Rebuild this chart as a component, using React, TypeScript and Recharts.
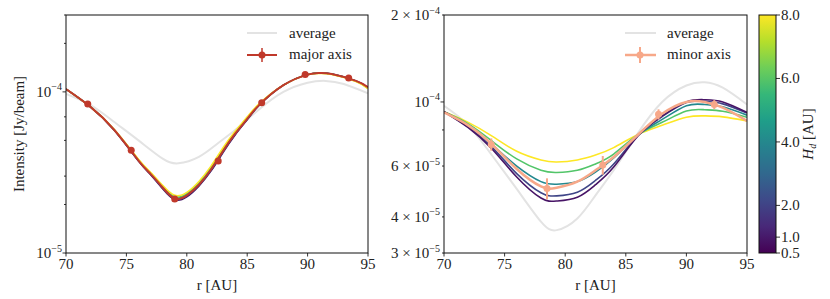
import React from 'react'
import { ComposedChart, Line, Scatter, ErrorBar, XAxis, YAxis } from 'recharts'

// left panel (major axis), radius grid in AU
const XL = [70, 72, 74, 76, 77, 78, 79, 80, 81, 82, 83, 84, 85, 86, 88, 90, 91, 92, 94, 95]
const majorFit = [1.04e-4, 8.1e-5, 5.8e-5, 3.75e-5, 3.1e-5, 2.55e-5, 2.18e-5, 2.28e-5, 2.65e-5, 3.3e-5, 4.3e-5, 5.5e-5, 6.8e-5, 8.3e-5, 1.1e-4, 1.28e-4, 1.31e-4, 1.29e-4, 1.17e-4, 1.07e-4]
const majHd1 = [1.04e-4, 8.1e-5, 5.78e-5, 3.72e-5, 3.06e-5, 2.5e-5, 2.14e-5, 2.23e-5, 2.6e-5, 3.22e-5, 4.2e-5, 5.4e-5, 6.72e-5, 8.25e-5, 1.1e-4, 1.28e-4, 1.31e-4, 1.29e-4, 1.17e-4, 1.06e-4]
const majHd2 = [1.04e-4, 8.1e-5, 5.79e-5, 3.73e-5, 3.08e-5, 2.52e-5, 2.16e-5, 2.26e-5, 2.63e-5, 3.26e-5, 4.25e-5, 5.45e-5, 6.76e-5, 8.28e-5, 1.1e-4, 1.28e-4, 1.31e-4, 1.29e-4, 1.17e-4, 1.06e-4]
const majHd4 = [1.04e-4, 8.1e-5, 5.8e-5, 3.76e-5, 3.11e-5, 2.56e-5, 2.2e-5, 2.3e-5, 2.68e-5, 3.33e-5, 4.33e-5, 5.53e-5, 6.83e-5, 8.32e-5, 1.1e-4, 1.28e-4, 1.31e-4, 1.29e-4, 1.17e-4, 1.055e-4]
const majHd6 = [1.04e-4, 8.1e-5, 5.82e-5, 3.79e-5, 3.14e-5, 2.6e-5, 2.24e-5, 2.34e-5, 2.73e-5, 3.4e-5, 4.42e-5, 5.62e-5, 6.92e-5, 8.38e-5, 1.1e-4, 1.28e-4, 1.305e-4, 1.285e-4, 1.165e-4, 1.05e-4]
const majHd8 = [1.04e-4, 8.1e-5, 5.84e-5, 3.82e-5, 3.17e-5, 2.63e-5, 2.28e-5, 2.38e-5, 2.78e-5, 3.46e-5, 4.5e-5, 5.7e-5, 7.0e-5, 8.45e-5, 1.1e-4, 1.275e-4, 1.3e-4, 1.28e-4, 1.16e-4, 1.045e-4]
const majorR = [71.8, 75.4, 79.0, 82.6, 86.2, 89.8, 93.4]
const majorI = [8.4e-5, 4.34e-5, 2.16e-5, 3.73e-5, 8.55e-5, 1.28e-4, 1.22e-4]
const majorErr = [1.5e-6, 1e-6, 6e-7, 1e-6, 1.5e-6, 2e-6, 2e-6]

// right panel (minor axis)
const XR = [70, 72, 74, 76, 78, 79.3, 81, 82.5, 84, 86, 88, 90, 91.5, 93, 95]
const average = [9.7e-5, 8.3e-5, 6.5e-5, 5.0e-5, 3.85e-5, 3.6e-5, 3.95e-5, 4.75e-5, 5.8e-5, 7.8e-5, 1.0e-4, 1.14e-4, 1.17e-4, 1.12e-4, 9.8e-5]
const minHd8 = [9.25e-5, 8.5e-5, 7.6e-5, 6.75e-5, 6.3e-5, 6.2e-5, 6.3e-5, 6.55e-5, 6.95e-5, 7.72e-5, 8.3e-5, 8.85e-5, 8.95e-5, 8.88e-5, 8.6e-5]
const minHd6 = [9.25e-5, 8.4e-5, 7.3e-5, 6.35e-5, 5.8e-5, 5.7e-5, 5.8e-5, 6.1e-5, 6.6e-5, 7.7e-5, 8.5e-5, 9.3e-5, 9.4e-5, 9.28e-5, 8.85e-5]
const minHd4 = [9.25e-5, 8.3e-5, 7.1e-5, 6.0e-5, 5.3e-5, 5.19e-5, 5.3e-5, 5.72e-5, 6.4e-5, 7.68e-5, 8.7e-5, 9.7e-5, 9.8e-5, 9.62e-5, 9.0e-5]
const minHd2 = [9.25e-5, 8.2e-5, 6.95e-5, 5.65e-5, 4.85e-5, 4.73e-5, 4.87e-5, 5.35e-5, 6.1e-5, 7.65e-5, 8.9e-5, 9.95e-5, 1.005e-4, 9.85e-5, 9.15e-5]
const minHd1 = [9.25e-5, 8.15e-5, 6.85e-5, 5.5e-5, 4.65e-5, 4.54e-5, 4.68e-5, 5.17e-5, 5.95e-5, 7.62e-5, 8.95e-5, 1.0e-4, 1.018e-4, 1.0e-4, 9.2e-5]
const minorFit = [9.2e-5, 8.3e-5, 7.1e-5, 5.86e-5, 5.1e-5, 5.05e-5, 5.3e-5, 5.8e-5, 6.45e-5, 7.7e-5, 9.1e-5, 1.0e-4, 1.0e-4, 9.55e-5, 8.6e-5]
const minorR = [73.9, 78.5, 83.1, 87.7, 92.3]
const minorI = [7.13e-5, 5.02e-5, 6.05e-5, 9.06e-5, 9.8e-5]
const minorErr = [3.5e-6, 4.2e-6, 4.5e-6, 3.7e-6, 3.5e-6]

const xTicks = [70, 75, 80, 85, 90, 95]
const leftTicks = [1e-5, 2e-5, 3e-5, 4e-5, 5e-5, 6e-5, 7e-5, 8e-5, 9e-5, 1e-4, 2e-4, 3e-4]
const rightTicks = [3e-5, 4e-5, 5e-5, 6e-5, 7e-5, 8e-5, 9e-5, 1e-4, 2e-4]
const cbTicks = [0.5, 1, 2, 4, 6, 8]

const FONT = '"Liberation Serif", "Times New Roman", "DejaVu Serif", serif'
const FS = 15
const SUP = 10
const TXT = { fontFamily: FONT }
const HD_COLORS = { 1: '#471466', 2: '#3f4587', 4: '#23888e', 6: '#52c569', 8: '#fde725' }
const VIRIDIS = ['#440154', '#482878', '#3e4989', '#31688e', '#26828e', '#1f9e89', '#35b779', '#6ece58', '#b5de2b', '#fde725']
const GREY = '#e3e3e3'
const RED = '#c0392b'
const SALMON = '#f7a889'

const rows = (xs: number[], ys: number[]) => xs.map((x, i) => ({ x, y: ys[i] }))
const pts = (xs: number[], ys: number[], es: number[]) => xs.map((x, i) => ({ x, y: ys[i], err: es[i] }))

const labelsLeft: Record<string, [string, string]> = {
  '1e-5': ['10', '−5'],
  '1e-4': ['10', '−4'],
}
const labelsRight: Record<string, [string, string]> = {
  '3e-5': ['3 × 10', '−5'],
  '4e-5': ['4 × 10', '−5'],
  '6e-5': ['6 × 10', '−5'],
  '1e-4': ['10', '−4'],
  '2e-4': ['2 × 10', '−4'],
}

function makeYTick(labels: Record<string, [string, string]>) {
  return (props: any) => {
    const { x, y, payload } = props
    const v = payload.value as number
    const key = v.toExponential().replace('+', '')
    const mant = Number(key.split('e')[0])
    const len = mant === 1 ? 3.5 : 2
    const lab = labels[key]
    return (
      <g>
        <line x1={x - len} x2={x} y1={y} y2={y} stroke="#000" strokeWidth={0.8} />
        {lab && (
          <text x={x - 4} y={y + 5} textAnchor="end" style={TXT} fontSize={FS} fill="#222">
            <tspan>{lab[0]}</tspan>
            <tspan dy={-6.5} fontSize={SUP}>{lab[1]}</tspan>
          </text>
        )}
      </g>
    )
  }
}

const XTick = (props: any) => {
  const { x, y, payload } = props
  return (
    <g>
      <line x1={x} x2={x} y1={y} y2={y + 3.5} stroke="#000" strokeWidth={0.8} />
      <text x={x} y={y + 15.5} textAnchor="middle" style={TXT} fontSize={FS} fill="#222">
        {payload.value}
      </text>
    </g>
  )
}

const dotRed = (p: any) => <circle cx={p.cx} cy={p.cy} r={3.5} fill={RED} />
const dotSalmon = (p: any) => <circle cx={p.cx} cy={p.cy} r={3.5} fill={SALMON} />

function Panel({ ticks, domain, labels, children, yWidth, right }: any) {
  return (
    <ComposedChart width={380} height={299} margin={{ top: 15, right, left: 0, bottom: 0 }}>
      <XAxis
        dataKey="x"
        type="number"
        domain={[70, 95]}
        ticks={xTicks}
        allowDataOverflow
        axisLine={false}
        tickLine={false}
        tickSize={0}
        tickMargin={0}
        height={46}
        tick={XTick}
      />
      <YAxis
        type="number"
        scale="log"
        domain={domain}
        ticks={ticks}
        allowDataOverflow
        axisLine={false}
        tickLine={false}
        tickSize={0}
        tickMargin={0}
        width={yWidth}
        tick={makeYTick(labels)}
      />
      {children}
    </ComposedChart>
  )
}

const curve = (xs: number[], ys: number[], color: string, w: number, key: string) => (
  <Line
    key={key}
    data={rows(xs, ys)}
    dataKey="y"
    type="natural"
    stroke={color}
    strokeWidth={w}
    dot={false}
    activeDot={false}
    isAnimationActive={false}
  />
)

export default function App() {
  return (
    <div style={{ position: 'absolute', left: 0, top: 0, width: 830, height: 299, background: '#fff', fontFamily: FONT }}>
      <div style={{ position: 'absolute', left: 0, top: 0 }}>
        <Panel ticks={leftTicks} domain={[1e-5, 3e-4]} labels={labelsLeft} yWidth={66} right={12}>
          {curve(XR, average, GREY, 2, 'avg')}
          {curve(XL, majHd1, HD_COLORS[1], 1.5, 'h1')}
          {curve(XL, majHd2, HD_COLORS[2], 1.5, 'h2')}
          {curve(XL, majHd4, HD_COLORS[4], 1.5, 'h4')}
          {curve(XL, majHd6, HD_COLORS[6], 1.5, 'h6')}
          {curve(XL, majHd8, HD_COLORS[8], 1.5, 'h8')}
          {curve(XL, majorFit, RED, 2, 'maj')}
          <Scatter data={pts(majorR, majorI, majorErr)} dataKey="y" shape={dotRed} isAnimationActive={false}>
            <ErrorBar dataKey="err" direction="y" width={0} stroke={RED} strokeWidth={1.5} />
          </Scatter>
        </Panel>
      </div>
      <div style={{ position: 'absolute', left: 380, top: 0 }}>
        <Panel ticks={rightTicks} domain={[3e-5, 2e-4]} labels={labelsRight} yWidth={64} right={13}>
          {curve(XR, average, GREY, 2, 'avg')}
          {curve(XR, minHd8, HD_COLORS[8], 1.6, 'h8')}
          {curve(XR, minHd6, HD_COLORS[6], 1.6, 'h6')}
          {curve(XR, minHd4, HD_COLORS[4], 1.6, 'h4')}
          {curve(XR, minHd2, HD_COLORS[2], 1.6, 'h2')}
          {curve(XR, minHd1, HD_COLORS[1], 1.6, 'h1')}
          {curve(XR, minorFit, SALMON, 2.5, 'min')}
          <Scatter data={pts(minorR, minorI, minorErr)} dataKey="y" shape={dotSalmon} isAnimationActive={false}>
            <ErrorBar dataKey="err" direction="y" width={0} stroke={SALMON} strokeWidth={2} />
          </Scatter>
        </Panel>
      </div>
      <svg
        width={830}
        height={299}
        style={{ position: 'absolute', left: 0, top: 0, pointerEvents: 'none', fontFamily: FONT }}
      >
        <defs>
          <linearGradient id="viridis" x1="0" y1="1" x2="0" y2="0">
            {VIRIDIS.map((c, i) => (
              <stop key={i} offset={i / (VIRIDIS.length - 1)} stopColor={c} />
            ))}
          </linearGradient>
        </defs>
        {/* frames */}
        <rect x={66} y={15} width={302} height={238} fill="none" stroke="#111" strokeWidth={1} />
        <rect x={444} y={15} width={303} height={238} fill="none" stroke="#111" strokeWidth={1} />

        {/* axis titles */}
        <text x={217} y={290} textAnchor="middle" fontSize={FS} fill="#222">r [AU]</text>
        <text x={595.5} y={290} textAnchor="middle" fontSize={FS} fill="#222">r [AU]</text>
        <text transform="translate(24,134) rotate(-90)" textAnchor="middle" fontSize={FS} fill="#222">
          Intensity [Jy/beam]
        </text>

        {/* left legend */}
        <line x1={247} x2={277} y1={33} y2={33} stroke={GREY} strokeWidth={2} />
        <text x={289} y={38} fontSize={FS} fill="#222">average</text>
        <line x1={247} x2={277} y1={55} y2={55} stroke={RED} strokeWidth={2} />
        <line x1={262} x2={262} y1={48} y2={62} stroke={RED} strokeWidth={1.5} />
        <circle cx={262} cy={55} r={3.5} fill={RED} />
        <text x={289} y={59} fontSize={FS} fill="#222">major axis</text>

        {/* right legend */}
        <line x1={625} x2={656} y1={33} y2={33} stroke={GREY} strokeWidth={2} />
        <text x={667} y={38} fontSize={FS} fill="#222">average</text>
        <line x1={625} x2={656} y1={55} y2={55} stroke={SALMON} strokeWidth={2.5} />
        <line x1={640} x2={640} y1={47} y2={63} stroke={SALMON} strokeWidth={2} />
        <circle cx={640} cy={55} r={3.5} fill={SALMON} />
        <text x={667} y={59} fontSize={FS} fill="#222">minor axis</text>

        {/* colorbar */}
        <rect x={759} y={15} width={17} height={238} fill="url(#viridis)" stroke="#111" strokeWidth={1} />
        {cbTicks.map((t) => {
          const y = 253 - ((t - 0.5) / 7.5) * 238
          return (
            <g key={t}>
              <line x1={776} x2={780} y1={y} y2={y} stroke="#000" strokeWidth={0.8} />
              <text x={781} y={y + 5} fontSize={FS} fill="#222">{t.toFixed(1)}</text>
            </g>
          )
        })}
        <text transform="translate(813,134) rotate(-90)" textAnchor="middle" fontSize={FS} fill="#222">
          <tspan fontStyle="italic">H</tspan>
          <tspan dy={3} fontSize={SUP} fontStyle="italic">d</tspan>
          <tspan dy={-3}> [AU]</tspan>
        </text>
      </svg>
    </div>
  )
}
